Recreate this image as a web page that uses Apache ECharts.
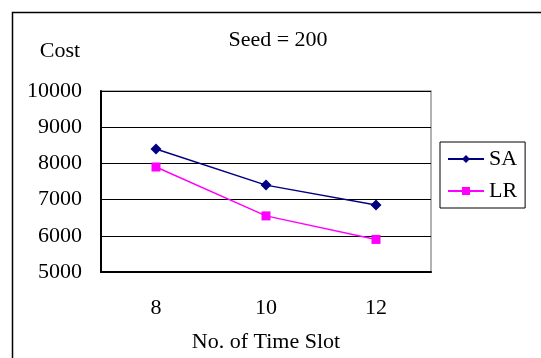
<!DOCTYPE html>
<html><head><meta charset="utf-8">
<script src="https://cdn.jsdelivr.net/npm/echarts@6/dist/echarts.min.js"></script>
<style>html,body{margin:0;padding:0;background:#fff}#c{width:541px;height:358px}</style>
</head><body><div id="c"></div>
<script>
const categories = ['8', '10', '12'];
const saValues = [8400, 7400, 6850];
const lrValues = [7900, 6550, 5900];
const yTicks = [5000, 6000, 7000, 8000, 9000, 10000];

const FONT = '"Liberation Serif", "Times New Roman", serif';
const FS = 22;
const chart = echarts.init(document.getElementById('c'));
chart.setOption({
  animation: false,
  backgroundColor: '#fff',
  textStyle: { fontFamily: FONT, color: '#000' },
  graphic: [
    { type: 'rect', shape: { x: 12.5, y: 12.5, width: 700, height: 500 }, style: { fill: 'none', stroke: '#000', lineWidth: 1.5 }, z: -1 },
    { type: 'text', style: { text: 'Cost', x: 60, y: 51, align: 'center', verticalAlign: 'middle', font: FS + 'px ' + FONT, fill: '#000' } },
    { type: 'text', style: { text: 'Seed = 200', x: 278, y: 40, align: 'center', verticalAlign: 'middle', font: FS + 'px ' + FONT, fill: '#000' } },
    { type: 'text', style: { text: 'No. of Time Slot', x: 266, y: 342, align: 'center', verticalAlign: 'middle', font: FS + 'px ' + FONT, fill: '#000' } }
  ],
  grid: { left: 101, top: 91, right: 110, bottom: 86, show: true, borderColor: '#999', borderWidth: 1.5, backgroundColor: '#fff' },
  legend: {
    orient: 'vertical', left: 440, top: 142,
    padding: [6, 8, 6, 7], itemGap: 10, itemWidth: 36, itemHeight: 10,
    borderColor: '#000', borderWidth: 1, backgroundColor: '#fff',
    textStyle: { fontFamily: FONT, fontSize: FS, color: '#000' },
    data: ['SA', 'LR']
  },
  xAxis: {
    type: 'category', data: categories, boundaryGap: true,
    axisLine: { lineStyle: { color: '#000', width: 2 } },
    axisTick: { inside: true, length: 6, lineStyle: { color: '#000' } },
    axisLabel: { fontFamily: FONT, fontSize: FS, color: '#000', margin: 25 }
  },
  yAxis: {
    type: 'value', min: yTicks[0], max: yTicks[yTicks.length - 1], interval: 1000,
    axisLine: { show: true, lineStyle: { color: '#000', width: 2 } },
    axisTick: { show: true, inside: true, length: 6, lineStyle: { color: '#000' } },
    axisLabel: { fontFamily: FONT, fontSize: FS, color: '#000', margin: 19, formatter: function (v) { return String(v); } },
    splitLine: { show: true, lineStyle: { color: '#000', width: 1 } }
  },
  series: [
    { name: 'SA', type: 'line', data: saValues, symbol: 'diamond', symbolSize: 11,
      itemStyle: { color: '#000080' }, lineStyle: { color: '#000080', width: 1.5 } },
    { name: 'LR', type: 'line', data: lrValues, symbol: 'rect', symbolSize: 9,
      itemStyle: { color: '#ff00ff' }, lineStyle: { color: '#ff00ff', width: 1.5 } }
  ]
});
</script></body></html>
